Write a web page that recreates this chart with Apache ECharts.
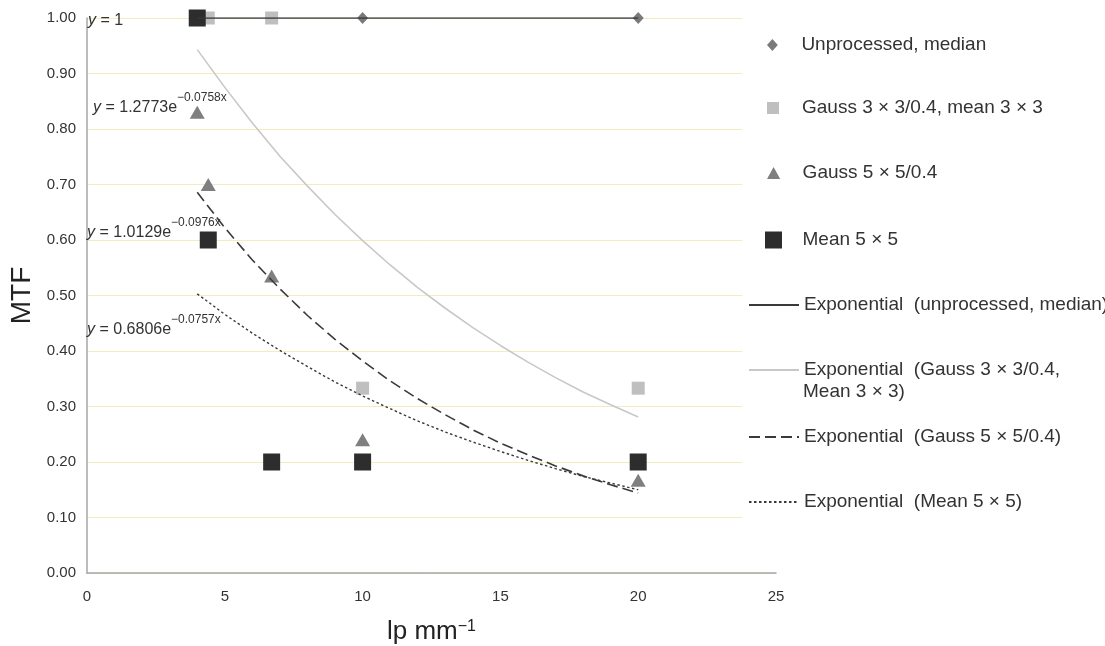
<!DOCTYPE html>
<html><head><meta charset="utf-8">
<script src="https://cdn.jsdelivr.net/npm/echarts@6/dist/echarts.min.js"></script>
<style>html,body{margin:0;padding:0;background:#fff}#c{width:1105px;height:646px}</style>
</head><body><div id="c"></div>
<script>
// ---- data ----
const lpValues = [4, 4.4, 6.7, 10, 20];
const unprocessedMedian = [1.0, 1.0, 1.0, 1.0, 1.0];
const gauss3Mean3 = [1.0, 1.0, 1.0, 0.333, 0.333];
const gauss5 = [0.83, 0.70, 0.535, 0.24, 0.167];
const mean5 = [1.0, 0.60, 0.20, 0.20, 0.20];

// trendline curves (x = 4 ... 20)
const fitX = [4, 5, 6, 7, 8, 9, 10, 11, 12, 13, 14, 15, 16, 17, 18, 19, 20];
const fitUnprocessed = [1, 1, 1, 1, 1, 1, 1, 1, 1, 1, 1, 1, 1, 1, 1, 1, 1];
const fitGauss3 = [0.943, 0.875, 0.811, 0.751, 0.697, 0.646, 0.599, 0.555, 0.514, 0.477, 0.442, 0.410, 0.380, 0.352, 0.326, 0.303, 0.281];
const fitGauss5 = [0.686, 0.622, 0.564, 0.512, 0.464, 0.421, 0.382, 0.346, 0.314, 0.285, 0.258, 0.234, 0.213, 0.193, 0.175, 0.159, 0.144];
const fitMean5 = [0.503, 0.466, 0.432, 0.401, 0.372, 0.344, 0.319, 0.296, 0.274, 0.254, 0.236, 0.219, 0.203, 0.188, 0.174, 0.162, 0.150];

const seriesNames = [
  'Unprocessed, median',
  'Gauss 3 × 3/0.4, mean 3 × 3',
  'Gauss 5 × 5/0.4',
  'Mean 5 × 5',
  'Exponential  (unprocessed, median)',
  'Exponential  (Gauss 3 × 3/0.4, Mean 3 × 3)',
  'Exponential  (Gauss 5 × 5/0.4)',
  'Exponential  (Mean 5 × 5)'
];
const legendLine1 = 'Exponential  (Gauss 3 × 3/0.4,';
const legendLine2 = 'Mean 3 × 3)';
const equations = [
  '{i|y}{m| = 1}',
  '{i|y}{m| = 1.2773e}{s|−0.0758x}',
  '{i|y}{m| = 1.0129e}{s|−0.0976x}',
  '{i|y}{m| = 0.6806e}{s|−0.0757x}'
];

const FONT = '"Liberation Sans", Arial, sans-serif';
const ICON_DIAMOND = 'path://M0,-1L0.9,0L0,1L-0.9,0Z';
const ICON_SQUARE = 'path://M0,0L1,0L1,1L0,1Z';
const ICON_TRIANGLE = 'path://M0,-1L1.1,1L-1.1,1Z';
const pairs = (xs, ys) => xs.map((x, i) => [x, ys[i]]);

const chart = echarts.init(document.getElementById('c'), null, {renderer: 'canvas'});

function legendFor(name, cfg) {
  return Object.assign({
    data: [name],
    orient: 'vertical',
    padding: 0,
    itemGap: 0,
    selectedMode: false,
    symbolKeepAspect: true,
    textStyle: {fontSize: 19, color: '#333', lineHeight: 20, fontFamily: FONT}
  }, cfg);
}

const eqRich = {
  i: {fontStyle: 'italic', fontSize: 16, fill: '#333', lineHeight: 24, verticalAlign: 'bottom', fontFamily: FONT},
  m: {fontSize: 16, fill: '#333', lineHeight: 24, verticalAlign: 'bottom', fontFamily: FONT},
  s: {fontSize: 12, fill: '#333', lineHeight: 12, verticalAlign: 'top', fontFamily: FONT}
};
function eqText(txt, x, y) {
  return {type: 'text', x: x, y: y, z: 5,
    style: {text: txt, rich: eqRich, verticalAlign: 'middle', align: 'left', fontFamily: FONT, fontSize: 16, fill: '#333'}};
}

const option = {
  backgroundColor: '#fff',
  animation: false,
  grid: {left: 87, right: 329, top: 18, bottom: 73, containLabel: false, outerBoundsMode: 'none'},
  xAxis: {
    type: 'value', min: 0, max: 25, interval: 5,
    axisLine: {show: true, lineStyle: {color: '#a6a6a6', width: 1.5}},
    axisTick: {show: false},
    splitLine: {show: false},
    axisLabel: {fontSize: 15, color: '#333', margin: 16, fontFamily: FONT},
    name: 'lp mm{s|−1}',
    nameLocation: 'middle',
    nameGap: 46,
    nameTextStyle: {fontSize: 26, color: '#222', fontFamily: FONT,
      rich: {s: {fontSize: 16, color: '#222', verticalAlign: 'top', lineHeight: 15, fontFamily: FONT}}}
  },
  yAxis: {
    type: 'value', min: 0, max: 1, interval: 0.1,
    axisLine: {show: true, lineStyle: {color: '#a6a6a6', width: 1.5}},
    axisTick: {show: false},
    splitLine: {show: true, lineStyle: {color: '#f2ecc0', width: 1}},
    axisLabel: {fontSize: 15, color: '#333', margin: 11, fontFamily: FONT, formatter: v => v.toFixed(2)},
    name: 'MTF',
    nameLocation: 'middle',
    nameRotate: 90,
    nameGap: 50,
    nameTextStyle: {fontSize: 28, color: '#222', fontFamily: FONT}
  },
  legend: [
    legendFor(seriesNames[0], {left: 767, top: 45 - 10, itemWidth: 48, itemHeight: 12, icon: ICON_DIAMOND}),
    legendFor(seriesNames[1], {left: 767, top: 108 - 10, itemWidth: 48, itemHeight: 12, icon: ICON_SQUARE}),
    legendFor(seriesNames[2], {left: 767, top: 173 - 10, itemWidth: 48, itemHeight: 12, icon: ICON_TRIANGLE}),
    legendFor(seriesNames[3], {left: 765, top: 240 - 10, itemWidth: 48, itemHeight: 17, icon: ICON_SQUARE}),
    legendFor(seriesNames[4], {left: 748, top: 305 - 10, itemWidth: 50, itemHeight: 14, itemStyle: {opacity: 0}}),
    legendFor(seriesNames[5], {left: 748, top: 370 - 10, itemWidth: 50, itemHeight: 14, itemStyle: {opacity: 0},
      formatter: () => legendLine1}),
    legendFor(seriesNames[6], {left: 748, top: 437 - 10, itemWidth: 50, itemHeight: 14, itemStyle: {opacity: 0}}),
    legendFor(seriesNames[7], {left: 748, top: 502 - 10, itemWidth: 50, itemHeight: 14, itemStyle: {opacity: 0}})
  ],
  graphic: [
    {type: 'rect', shape: {x: 742, y: 0, width: 40, height: 566}, style: {fill: '#fff'}, z: 1, silent: true},
    {type: 'text', x: 803, y: 392, z: 5, silent: true,
      style: {text: legendLine2, fontSize: 19, fill: '#333', fontFamily: FONT, verticalAlign: 'middle', align: 'left'}},
    eqText(equations[0], 88, 17),
    eqText(equations[1], 93, 104),
    eqText(equations[2], 87, 229),
    eqText(equations[3], 87, 326)
  ],
  series: [
    {name: seriesNames[0], type: 'scatter', symbol: 'diamond', symbolSize: [11, 12], z: 2,
      itemStyle: {color: '#7a7a7a', opacity: 1}, data: pairs(lpValues, unprocessedMedian)},
    {name: seriesNames[1], type: 'scatter', symbol: 'rect', symbolSize: 13, z: 2,
      itemStyle: {color: '#bfbfbf', opacity: 1}, data: pairs(lpValues, gauss3Mean3)},
    {name: seriesNames[2], type: 'scatter', symbol: 'triangle', symbolSize: [15, 13], z: 2,
      itemStyle: {color: '#7f7f7f', opacity: 1}, data: pairs(lpValues, gauss5)},
    {name: seriesNames[3], type: 'scatter', symbol: 'rect', symbolSize: 17, z: 2,
      itemStyle: {color: '#2d2d2d', opacity: 1}, data: pairs(lpValues, mean5)},
    {name: seriesNames[4], type: 'line', symbol: 'none', showSymbol: false, z: 3,
      lineStyle: {color: '#3a3a3a', width: 1.6}, itemStyle: {color: '#3a3a3a'}, data: pairs(fitX, fitUnprocessed)},
    {name: seriesNames[5], type: 'line', symbol: 'none', showSymbol: false, z: 3,
      lineStyle: {color: '#c8c8c8', width: 1.6}, itemStyle: {color: '#c8c8c8'}, data: pairs(fitX, fitGauss3)},
    {name: seriesNames[6], type: 'line', symbol: 'none', showSymbol: false, z: 3,
      lineStyle: {color: '#3a3a3a', width: 1.6, type: [11, 5]}, itemStyle: {color: '#3a3a3a'}, data: pairs(fitX, fitGauss5)},
    {name: seriesNames[7], type: 'line', symbol: 'none', showSymbol: false, z: 3,
      lineStyle: {color: '#3a3a3a', width: 1.4, type: [2.5, 2.5]}, itemStyle: {color: '#3a3a3a'}, data: pairs(fitX, fitMean5)}
  ]
};
chart.setOption(option);
</script>
</body></html>
